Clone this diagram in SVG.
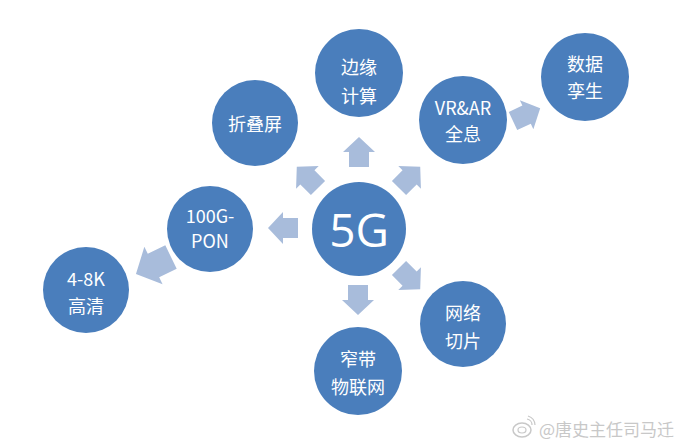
<svg xmlns="http://www.w3.org/2000/svg" width="690" height="447" viewBox="0 0 690 447">
<style>
.n{fill:#4a7ebc}
.t{fill:#fff;font-family:"Noto Sans CJK SC","Noto Sans",sans-serif;font-size:18px;text-anchor:middle;dominant-baseline:central}
.a{fill:#a8bcdb}
.wm{fill:#c8c8c8;font-family:"Noto Sans CJK SC",sans-serif;font-size:17px;dominant-baseline:central}
</style>
<defs>
<polygon id="arr" points="0,-10 15,-10 15,-16 30,0 15,16 15,10 0,10"/>
</defs>
<rect width="690" height="447" fill="#fff"/>
<g id="connectors" class="a">
<use href="#arr" transform="translate(359,167) rotate(-90)"/>
<use href="#arr" transform="translate(298,228) rotate(180)"/>
<use href="#arr" transform="translate(358,285) rotate(90)"/>
<use href="#arr" transform="translate(318,188) rotate(-135)"/>
<use href="#arr" transform="translate(399,188) rotate(-45)"/>
<use href="#arr" transform="translate(399,268) rotate(45)"/>
<use href="#arr" transform="translate(513,121) rotate(-25)"/>
<use href="#arr" transform="translate(171,257) rotate(154) scale(1.3)"/>
</g>
<g id="n5g"><circle class="n" cx="359" cy="229" r="47"/><text class="t" x="359" y="229" style="font-size:46px;font-family:'Open Sans','Noto Sans',sans-serif">5G</text></g>
<g id="edge"><circle class="n" cx="359" cy="73" r="44"/><text class="t" x="359" y="66">边缘</text><text class="t" x="359" y="95">计算</text></g>
<g id="fold"><circle class="n" cx="255" cy="123" r="43"/><text class="t" x="255" y="123">折叠屏</text></g>
<g id="vrar"><circle class="n" cx="463" cy="120" r="44"/><text class="t" x="463" y="107">VR&amp;AR</text><text class="t" x="463" y="133">全息</text></g>
<g id="twin"><circle class="n" cx="585" cy="77" r="44"/><text class="t" x="585" y="63">数据</text><text class="t" x="585" y="90">孪生</text></g>
<g id="pon"><circle class="n" cx="210" cy="229" r="43"/><text class="t" x="210" y="215">100G-</text><text class="t" x="210" y="240">PON</text></g>
<g id="hd"><circle class="n" cx="86" cy="290" r="43"/><text class="t" x="86" y="278">4-8K</text><text class="t" x="86" y="305">高清</text></g>
<g id="slice"><circle class="n" cx="463" cy="324" r="43"/><text class="t" x="463" y="312">网络</text><text class="t" x="463" y="340">切片</text></g>
<g id="nbiot"><circle class="n" cx="358" cy="371" r="44"/><text class="t" x="358" y="358">窄带</text><text class="t" x="358" y="386">物联网</text></g>
<g id="watermark">
<ellipse cx="522" cy="430" rx="9" ry="7" fill="none" stroke="#c8c8c8" stroke-width="1.5"/>
<ellipse cx="522" cy="430" rx="4" ry="3" fill="none" stroke="#c8c8c8" stroke-width="1.2"/>
<path d="M527,419 a6,6 0 0 1 5,6 M528,416 a10,10 0 0 1 7,9" fill="none" stroke="#c8c8c8" stroke-width="1.2"/>
<text class="wm" x="539" y="428">@唐史主任司马迁</text>
</g>
</svg>
